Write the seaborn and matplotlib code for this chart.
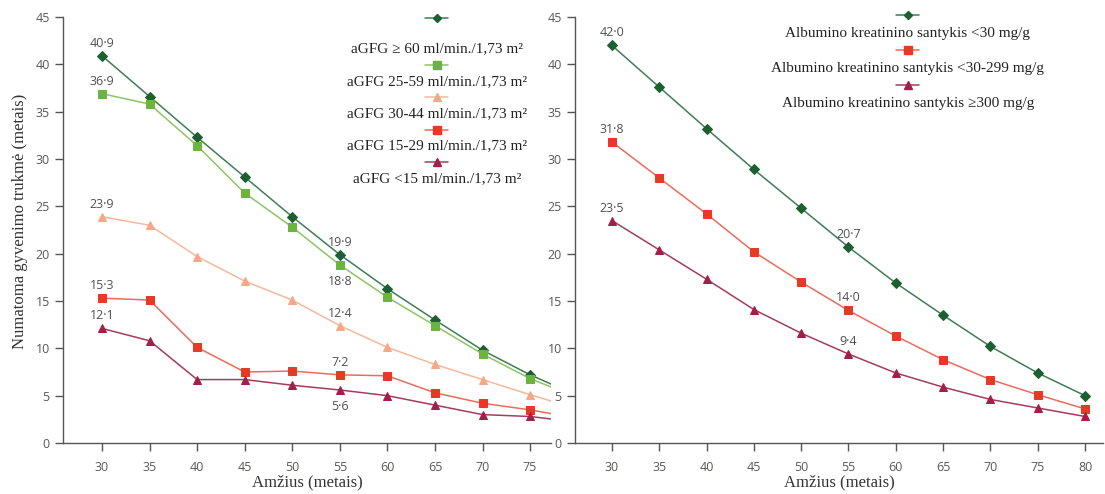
import matplotlib
matplotlib.use("Agg")
import numpy as np
import pandas as pd
import matplotlib.pyplot as plt
import seaborn as sns
from matplotlib.lines import Line2D
from matplotlib.offsetbox import VPacker

# amžius (metai)
ages = [30, 35, 40, 45, 50, 55, 60, 65, 70, 75, 80]

# kairė: pagal aGFG
gfg_60 = [40.9, 36.6, 32.3, 28.1, 23.9, 19.9, 16.3, 13.0, 9.8, 7.2, 5.0]
gfg_25 = [36.9, 35.8, 31.4, 26.4, 22.8, 18.8, 15.4, 12.4, 9.4, 6.8, 4.8]
gfg_30 = [23.9, 23.0, 19.7, 17.1, 15.1, 12.4, 10.1, 8.3, 6.7, 5.1, 3.6]
gfg_15 = [15.3, 15.1, 10.1, 7.5, 7.6, 7.2, 7.1, 5.3, 4.2, 3.5, 2.6]
gfg_lt15 = [12.1, 10.8, 6.7, 6.7, 6.1, 5.6, 5.0, 4.0, 3.0, 2.8, 2.2]

# dešinė: pagal albumino kreatinino santykį
akr_30 = [42.0, 37.6, 33.2, 28.9, 24.8, 20.7, 16.9, 13.5, 10.2, 7.4, 5.0]
akr_299 = [31.8, 28.0, 24.2, 20.2, 17.0, 14.0, 11.3, 8.8, 6.7, 5.1, 3.6]
akr_300 = [23.5, 20.4, 17.3, 14.1, 11.6, 9.4, 7.4, 5.9, 4.6, 3.7, 2.8]

left_labels = ["aGFG \u2265 60 ml/min./1,73 m\u00b2",
               "aGFG 25-59 ml/min./1,73 m\u00b2",
               "aGFG 30-44 ml/min./1,73 m\u00b2",
               "aGFG 15-29 ml/min./1,73 m\u00b2",
               "aGFG <15 ml/min./1,73 m\u00b2"]
right_labels = ["Albumino kreatinino santykis <30 mg/g",
                "Albumino kreatinino santykis <30-299 mg/g",
                "Albumino kreatinino santykis \u2265300 mg/g"]

# (line colour, marker colour, marker, size)
st_dgreen = ("#3f7d55", "#1c5f31", "D", 4.8)
st_lgreen = ("#8cc563", "#6cb33f", "s", 6.0)
st_peach = ("#f6b89c", "#f4a888", "^", 6.0)
st_red = ("#ec6b5b", "#e63a27", "s", 6.0)
st_maroon = ("#a63a5f", "#a31f48", "^", 6.0)

sns.set_style("ticks")
plt.rcParams["font.family"] = ["Open Sans", "DejaVu Sans"]
serif = ["Liberation Serif", "DejaVu Serif"]
tick_col = "#5e5555"
lab_col = "#555050"

fig = plt.figure(figsize=(11.05, 4.94), dpi=100)
ax1 = fig.add_axes([63/1105, 51/494, 488/1105, 426/494])
ax2 = fig.add_axes([575/1105, 51/494, 528/1105, 426/494])


def draw(ax, vals, style):
    lc, mc, m, ms = style
    sns.lineplot(x=ages, y=vals, ax=ax, color=lc, linewidth=1.1, marker=m,
                 markersize=ms, markerfacecolor=mc, markeredgecolor=mc,
                 legend=False)


def tag(ax, vals, i, where):
    txt = f"{vals[i]:.1f}".replace(".", "\u00b7")
    dy = 9 if where == "up" else -12
    ax.annotate(txt, (ages[i], vals[i]), xytext=(0, dy), textcoords="offset points",
                ha="center", va="center", fontsize=9, color=lab_col)


def legend(ax, labels, styles, anchor, pad, spacing, first_sep=None):
    hs = [Line2D([], [], color=s[0], marker=s[2], markersize=s[3] - 0.5,
                 markerfacecolor=s[1], markeredgecolor=s[1], linewidth=1.1)
          for s in styles]
    leg = ax.legend(hs, labels, loc="upper center", bbox_to_anchor=anchor,
                    frameon=False, handlelength=1.5, handletextpad=pad,
                    labelspacing=spacing, alignment="center",
                    prop={"family": serif, "size": 11})
    # marker above its text, like in the source figure
    for col in leg._legend_handle_box.get_children():
        col.align = "center"
        for k, item in enumerate(col.get_children()):
            item.__class__ = VPacker
            item.align = "center"
            if k == 0 and first_sep is not None:
                item.sep = first_sep
    for t in leg.get_texts():
        t.set_color("#222222")
    return leg


left_series = [gfg_60, gfg_25, gfg_30, gfg_15, gfg_lt15]
left_styles = [st_dgreen, st_lgreen, st_peach, st_red, st_maroon]
for v, s in zip(left_series, left_styles):
    draw(ax1, v, s)
right_series = [akr_30, akr_299, akr_300]
right_styles = [st_dgreen, st_red, st_maroon]
for v, s in zip(right_series, right_styles):
    draw(ax2, v, s)

for v in left_series:
    tag(ax1, v, 0, "up")
tag(ax1, gfg_60, 5, "up")
tag(ax1, gfg_25, 5, "down")
tag(ax1, gfg_30, 5, "up")
tag(ax1, gfg_15, 5, "up")
tag(ax1, gfg_lt15, 5, "down")
for v in right_series:
    tag(ax2, v, 0, "up")
    tag(ax2, v, 5, "up")

ax1.set_xlim(25.9, 77.2)
ax2.set_xlim(26.1, 81.9)
for ax, xt in [(ax1, ages[:-1]), (ax2, ages)]:
    ax.set_ylim(0, 45)
    ax.set_yticks(range(0, 46, 5))
    ax.set_xticks(xt)
    ax.tick_params(axis="both", colors="#555555", labelcolor=tick_col,
                   labelsize=9, length=6, width=1.0, direction="out")
    ax.tick_params(axis="x", pad=7)
    for sp in ["top", "right"]:
        ax.spines[sp].set_visible(False)
    for sp in ["left", "bottom"]:
        ax.spines[sp].set_color("#555555")
        ax.spines[sp].set_linewidth(1.0)
    ax.set_xlabel("Am\u017eius (metais)", family=serif, fontsize=12, color="#333333")
    ax.xaxis.set_label_coords(0.5, -0.073)

ax1.set_ylabel("Numatoma gyvenimo trukm\u0117 (metais)", family=serif, fontsize=12,
               color="#333333")
ax1.yaxis.set_label_coords(-0.072, 0.52)
ax2.set_ylabel("")

legend(ax1, left_labels, left_styles, (0.766, 1.042), 0.3, 0.27, first_sep=13.5)
legend(ax2, right_labels, right_styles, (0.63, 1.05), 0.45, 0.3)

fig.savefig("out.png", dpi=100)
